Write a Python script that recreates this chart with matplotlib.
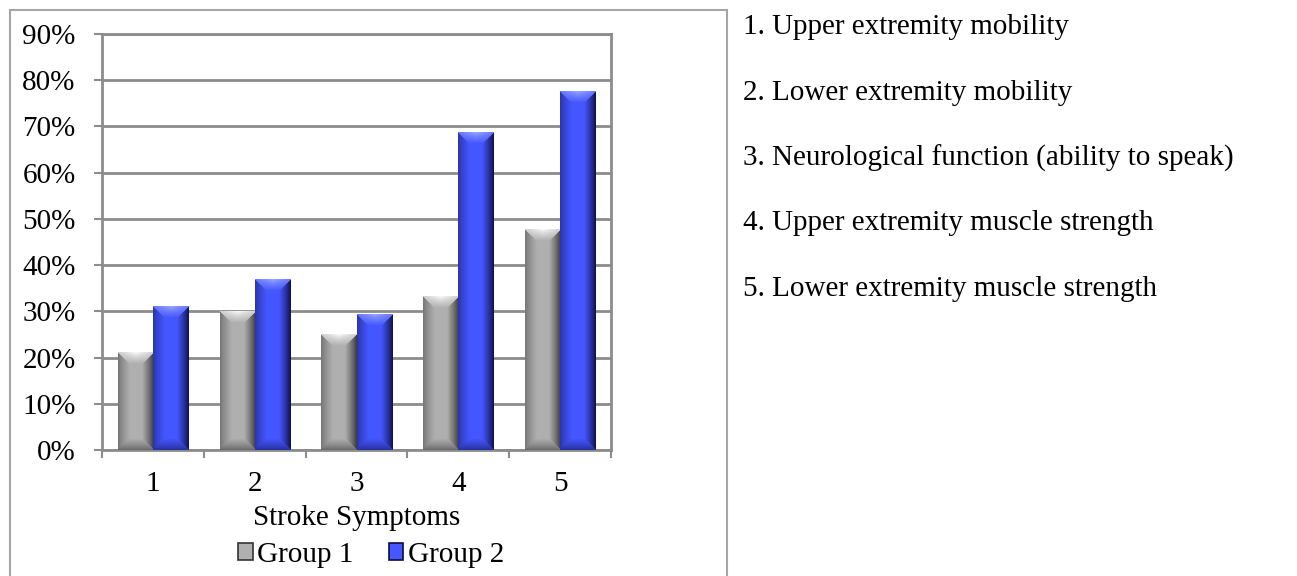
import matplotlib

matplotlib.use("Agg")
import matplotlib.pyplot as plt
import numpy as np
from matplotlib.patches import Rectangle
from matplotlib.ticker import PercentFormatter

categories = ["1", "2", "3", "4", "5"]
group1 = [21.0, 30.0, 25.0, 33.2, 47.7]
group2 = [31.0, 36.8, 29.4, 68.7, 77.6]
series_names = ["Group 1", "Group 2"]
descriptions = [
    "1. Upper extremity mobility",
    "2. Lower extremity mobility",
    "3. Neurological function (ability to speak)",
    "4. Upper extremity muscle strength",
    "5. Lower extremity muscle strength",
]

W, H, DPI = 1297, 576, 100
FONT = "Liberation Serif"
FS = 21

# face, left edge, right edge, top-light, bottom shade (RGB 0-1)
STYLES = {
    "Group 1": dict(face=(0.69, 0.69, 0.69), left=(0.45, 0.45, 0.45),
                    right=(0.20, 0.20, 0.20), top=(1.0, 1.0, 1.0),
                    bottom=(0.40, 0.40, 0.40)),
    "Group 2": dict(face=(0.27, 0.34, 1.0), left=(0.16, 0.20, 0.65),
                    right=(0.05, 0.05, 0.25), top=(0.62, 0.68, 1.0),
                    bottom=(0.14, 0.18, 0.58)),
}


def bevel_image(w_px, h_px, st, b=13):
    w_px = max(int(round(w_px)), 4)
    h_px = max(int(round(h_px)), 4)
    jj, ii = np.meshgrid(np.arange(w_px) + 0.5, np.arange(h_px) + 0.5)
    dl, dr = jj, w_px - jj
    dt, db = ii, h_px - ii
    img = np.zeros((h_px, w_px, 3))
    face = np.array(st["face"])
    img[:] = face
    b = min(b, w_px / 3, h_px / 2)
    dmin = np.minimum(np.minimum(dl, dr), np.minimum(dt, db))
    inb = dmin < b
    f = (dmin / b)[..., None] ** 0.8
    for name, d in (("left", dl), ("right", dr), ("bottom", db), ("top", dt)):
        m = inb & (d == dmin)
        c = np.array(st[name])
        if name == "top":
            # light band that fades towards the face, brightest in the middle
            mid = 1 - np.abs(jj / w_px - 0.5) * 1.2
            c = c[None, None, :] * mid[..., None] + face * (1 - mid[..., None])
        mix = c * (1 - f) + face * f
        img[m] = mix[m]
    return img.clip(0, 1)


fig = plt.figure(figsize=(W / DPI, H / DPI), dpi=DPI)
plt.rcParams["font.family"] = FONT

ax = fig.add_axes([102 / W, 1 - 450 / H, (611 - 102) / W, (450 - 34) / H])
x = np.arange(1, len(categories) + 1)
bw = 0.345
bars1 = ax.bar(x - bw / 2, group1, bw, color=STYLES["Group 1"]["face"], zorder=2)
bars2 = ax.bar(x + bw / 2, group2, bw, color=STYLES["Group 2"]["face"], zorder=2)

ax.set_xlim(0.5, len(categories) + 0.5)
ax.set_ylim(0, 90)
ax.set_yticks(np.arange(0, 91, 10))
ax.yaxis.set_major_formatter(PercentFormatter(decimals=0))
ax.set_xticks(x)
ax.set_xticklabels(categories)
ax.set_xticks(np.arange(0.5, len(categories) + 1, 1), minor=True)
ax.tick_params(axis="x", which="major", length=0, pad=15, labelsize=FS)
ax.tick_params(axis="x", which="minor", length=6, width=1.5, color="#8c8c8c",
               direction="out")
ax.tick_params(axis="y", length=6, width=1.5, color="#8c8c8c", pad=13, labelsize=FS)
ax.yaxis.grid(True, color="#8c8c8c", linewidth=2, zorder=0)
ax.set_axisbelow(True)
for s in ax.spines.values():
    s.set_color("#8c8c8c")
    s.set_linewidth(2)
ax.set_xlabel("Stroke Symptoms", fontsize=FS, labelpad=6)

# bevelled bar look
bbox = ax.get_window_extent()
px_x = bbox.width / (ax.get_xlim()[1] - ax.get_xlim()[0])
px_y = bbox.height / (ax.get_ylim()[1] - ax.get_ylim()[0])
for bars, name in ((bars1, "Group 1"), (bars2, "Group 2")):
    for p in bars:
        x0, y0 = p.get_x(), p.get_y()
        w, h = p.get_width(), p.get_height()
        img = bevel_image(w * px_x, h * px_y, STYLES[name])
        ax.imshow(img, extent=(x0, x0 + w, y0, y0 + h), origin="upper",
                  aspect="auto", interpolation="bilinear", zorder=3)
ax.set_xlim(0.5, len(categories) + 0.5)
ax.set_ylim(0, 90)

handles = [Rectangle((0, 0), 1, 1, facecolor=STYLES[n]["face"],
                     edgecolor=STYLES[n]["right"], linewidth=1.2) for n in series_names]
fig.legend(handles, series_names, loc="center",
           bbox_to_anchor=(371 / W, 1 - 555 / H), ncol=2, frameon=False,
           fontsize=FS, handlelength=0.5, handleheight=0.5, handletextpad=0.15,
           columnspacing=1.2, borderaxespad=0)

# outer chart frame
fig.patches.append(Rectangle((10 / W, -0.01), (727 - 10) / W, 1 - 10 / H + 0.01,
                             transform=fig.transFigure, fill=False,
                             edgecolor="#a6a6a6", linewidth=1.5))

for i, txt in enumerate(descriptions):
    fig.text(743 / W, 1 - (27 + 65.5 * i) / H, txt, fontsize=FS,
             ha="left", va="center")

fig.savefig("out.png", dpi=DPI)
